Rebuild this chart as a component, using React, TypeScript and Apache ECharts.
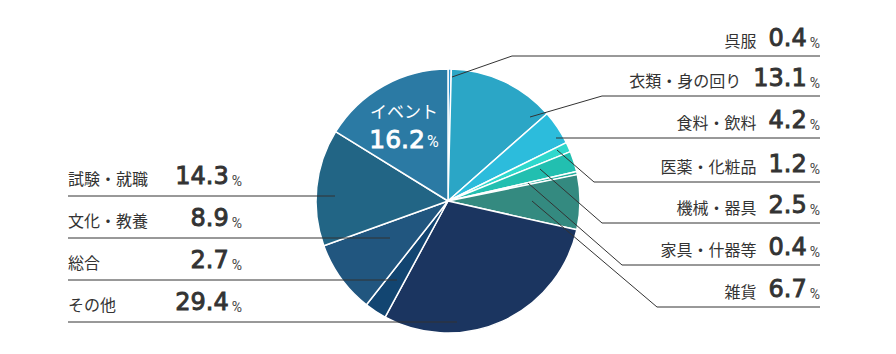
import React, { useEffect, useRef } from 'react';
import * as echarts from 'echarts';

const categories = ['呉服', '衣類・身の回り', '食料・飲料', '医薬・化粧品', '機械・器具', '家具・什器等', '雑貨', 'その他', '総合', '文化・教養', '試験・就職', 'イベント'];
const values = [0.4, 13.1, 4.2, 1.2, 2.5, 0.4, 6.7, 29.4, 2.7, 8.9, 14.3, 16.2];
const sliceColors = ['#2b8fce', '#2ba6c6', '#2cbcdc', '#2fd8cc', '#22bfb0', '#27ae9f', '#348a80', '#1b3560', '#124571', '#21567f', '#226585', '#2b7aa4'];

// label guide layout: side, anchor point inside slice, elbow x, line y
type Guide = { side: 'right' | 'left' | 'inside'; ax: number; ay: number; ex: number; ly: number };
const guides: Guide[] = [
  { side: 'right', ax: 452, ay: 77, ex: 512, ly: 56 },
  { side: 'right', ax: 530, ay: 117, ex: 602, ly: 96 },
  { side: 'right', ax: 556, ay: 138, ex: 556, ly: 138 },
  { side: 'right', ax: 557, ay: 150, ex: 594, ly: 182 },
  { side: 'right', ax: 540, ay: 169, ex: 602, ly: 223 },
  { side: 'right', ax: 528, ay: 183, ex: 622, ly: 265 },
  { side: 'right', ax: 532, ay: 201, ex: 657, ly: 307 },
  { side: 'left', ax: 457, ay: 322, ex: 200, ly: 322 },
  { side: 'left', ax: 397, ay: 280, ex: 200, ly: 280 },
  { side: 'left', ax: 390, ay: 238, ex: 200, ly: 238 },
  { side: 'left', ax: 335, ay: 196, ex: 200, ly: 196 },
  { side: 'inside', ax: 404, ay: 126, ex: 0, ly: 0 },
];

const RIGHT_X = 820;
const LEFT_X = 68;
const LEFT_W = 174;

const numFont = '"DejaVu Sans", sans-serif';
const pctFont = 'Roboto, "Noto Sans", sans-serif';
const jpFont = '"Noto Sans CJK JP", "Noto Sans", sans-serif';

export default function App() {
  const ref = useRef<HTMLDivElement>(null);
  useEffect(() => {
    if (!ref.current) return;
    const chart = echarts.init(ref.current, null, { renderer: 'svg' });
    const sliceData = categories.map((name, i) => ({ name, value: values[i], itemStyle: { color: sliceColors[i] } }));
    const labelData = categories.map((name, i) => {
      const g = guides[i];
      const item: any = { name, value: values[i] };
      if (g.side === 'inside') {
        item.labelLine = { show: false };
        item.label = {
          formatter: (p: any) => `{ni|${p.name}}\n{vi|${p.value}}{pi|%}`,
        };
      } else if (g.side === 'left') {
        item.label = {
          width: LEFT_W,
          formatter: (p: any) => `{nl|${p.name}}{vl|${p.value}}{pl|%}`,
        };
      } else {
        item.label = {
          formatter: (p: any) => `{n|${p.name}}{v|${p.value}}{p|%}`,
        };
      }
      return item;
    });
    const numStyle = { fontFamily: numFont, fontSize: 24, color: '#333', textBorderColor: '#333', textBorderWidth: 0.9 };
    chart.setOption({
      animation: false,
      series: [
        {
          type: 'pie',
          z: 2,
          center: [448, 201],
          radius: [0, 132],
          startAngle: 90,
          clockwise: true,
          silent: true,
          itemStyle: { borderColor: '#ffffff', borderWidth: 1.5 },
          label: { show: false },
          labelLine: { show: false },
          data: sliceData,
        },
        {
          type: 'pie',
          z: 5,
          center: [448, 201],
          radius: [0, 132],
          startAngle: 90,
          clockwise: true,
          silent: true,
          avoidLabelOverlap: false,
          itemStyle: { color: 'rgba(0,0,0,0)', borderWidth: 0 },
          label: {
            show: true,
            position: 'outside',
            color: '#333',
            rich: {
              n: { fontFamily: jpFont, fontSize: 16, color: '#333', padding: [0, 12, 2, 0], verticalAlign: 'bottom', lineHeight: 30 },
              nl: { fontFamily: jpFont, fontSize: 16, color: '#333', align: 'left', padding: [0, 0, 2, 0], verticalAlign: 'bottom', lineHeight: 30 },
              v: { ...numStyle, verticalAlign: 'bottom', lineHeight: 30 },
              vl: { ...numStyle, align: 'right', verticalAlign: 'bottom', lineHeight: 30 },
              p: { fontFamily: pctFont, fontSize: 14, color: '#444', padding: [0, 0, 0, 3], verticalAlign: 'bottom', lineHeight: 30 },
              pl: { fontFamily: pctFont, fontSize: 14, color: '#444', padding: [0, 0, 0, 3], align: 'right', verticalAlign: 'bottom', lineHeight: 30 },
              ni: { fontFamily: jpFont, fontSize: 17, color: '#fff', align: 'center', lineHeight: 26 },
              vi: { fontFamily: numFont, fontSize: 25, color: '#fff', textBorderColor: '#fff', textBorderWidth: 0.9, lineHeight: 32 },
              pi: { fontFamily: pctFont, fontSize: 16, color: '#fff', padding: [4, 0, 0, 2], lineHeight: 32 },
            },
          },
          labelLine: {
            show: true,
            length: 10,
            length2: 10,
            lineStyle: { color: '#333', width: 1 },
          },
          labelLayout: (params: any) => {
            const g = guides[params.dataIndex];
            if (g.side === 'inside') {
              return { x: g.ax, y: g.ay, align: 'center', verticalAlign: 'middle' };
            }
            if (g.side === 'left') {
              return {
                x: LEFT_X,
                y: g.ly - 23,
                align: 'left',
                verticalAlign: 'middle',
                labelLinePoints: [[g.ax, g.ay], [g.ex, g.ly], [LEFT_X, g.ly]],
              };
            }
            return {
              x: RIGHT_X,
              y: g.ly - 21,
              align: 'right',
              verticalAlign: 'middle',
              labelLinePoints: [[g.ax, g.ay], [g.ex, g.ly], [RIGHT_X, g.ly]],
            };
          },
          data: labelData,
        },
      ],
    });
    return () => chart.dispose();
  }, []);
  return <div ref={ref} style={{ position: 'absolute', left: 0, top: 0, width: 896, height: 354 }} />;
}
